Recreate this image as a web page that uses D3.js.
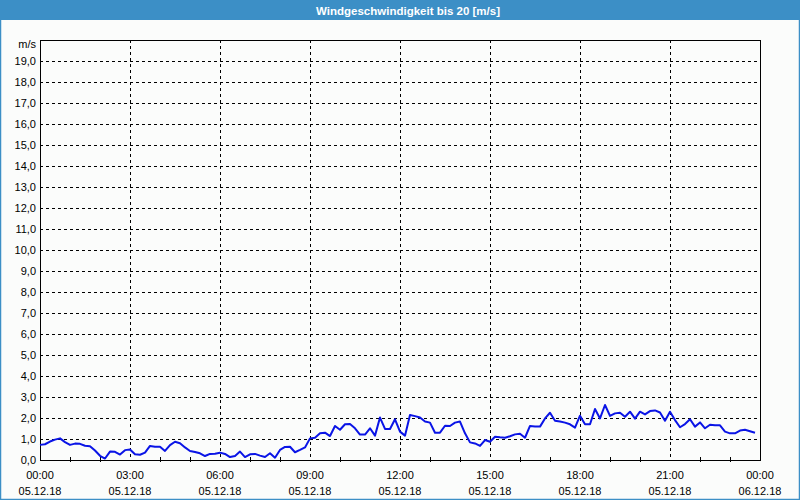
<!DOCTYPE html>
<html>
<head>
<meta charset="utf-8">
<script src="https://cdn.jsdelivr.net/npm/d3@7"></script>
<style>
html,body{margin:0;padding:0;background:#fff;}
svg{display:block;}
</style>
</head>
<body>
<script>
// ---- data ----
const title = "Windgeschwindigkeit bis 20 [m/s]";
const unitLabel = "m/s";
const startTime = "2018-12-05T00:00:00";
const endTime = "2018-12-06T00:00:00";
const stepMinutes = 10;
const windSpeed = [
0.72,0.75,0.88,0.97,1.03,0.85,0.72,0.78,0.77,0.68,
0.66,0.45,0.20,0.07,0.40,0.39,0.26,0.47,0.50,0.27,
0.25,0.35,0.67,0.63,0.63,0.43,0.71,0.87,0.80,0.60,
0.43,0.38,0.32,0.19,0.29,0.30,0.35,0.29,0.14,0.19,
0.40,0.14,0.27,0.29,0.21,0.14,0.32,0.11,0.48,0.62,
0.63,0.37,0.48,0.60,1.03,1.06,1.27,1.30,1.14,1.62,
1.44,1.70,1.71,1.51,1.21,1.21,1.51,1.16,2.02,1.48,
1.48,1.94,1.35,1.16,2.14,2.09,2.02,1.83,1.78,1.30,
1.30,1.63,1.62,1.78,1.83,1.27,0.84,0.79,0.67,0.95,
0.87,1.11,1.08,1.06,1.13,1.22,1.25,1.06,1.62,1.60,
1.59,1.98,2.25,1.87,1.83,1.78,1.70,1.54,2.11,1.70,
1.70,2.43,1.98,2.62,2.10,2.22,2.25,2.06,2.30,1.97,
2.30,2.17,2.33,2.36,2.26,1.87,2.30,1.90,1.56,1.71,
1.94,1.59,1.79,1.51,1.68,1.65,1.65,1.35,1.27,1.27,
1.40,1.44,1.37,1.30
];
const yTicks = [0,1,2,3,4,5,6,7,8,9,10,11,12,13,14,15,16,17,18,19];
const yMax = 20;
const xTickHours = [0,3,6,9,12,15,18,21,24];

// ---- layout ----
const W = 800, H = 500;
const m = {left:40, top:40, right:40, bottom:40};
const font = "'Liberation Sans', Arial, sans-serif";

const t0 = new Date(startTime), t1 = new Date(endTime);
const data = windSpeed.map((v,i)=>({t:new Date(t0.getTime()+i*stepMinutes*60000), v}));

const svg = d3.select("body").append("svg").attr("width",W).attr("height",H);

svg.append("rect").attr("x",0).attr("y",0).attr("width",W).attr("height",H).attr("fill","#fbfcfb");
svg.append("rect").attr("x",0.5).attr("y",0.5).attr("width",W-1).attr("height",H-1)
  .attr("fill","none").attr("stroke","#3c8fc6").attr("stroke-width",1.5);
svg.append("rect").attr("x",0).attr("y",0).attr("width",W).attr("height",20).attr("fill","#3c8fc6");
svg.append("text").attr("x",W/2+8).attr("y",14.5).attr("text-anchor","middle")
  .attr("fill","#fff").attr("font-family",font).attr("font-weight","bold").attr("font-size","11.5px")
  .text(title);

const x = d3.scaleTime().domain([t0,t1]).range([m.left, W-m.right]);
const y = d3.scaleLinear().domain([0,yMax]).range([H-m.bottom, m.top]);

const g = svg.append("g");

// horizontal grid
g.selectAll("line.hg").data(yTicks.filter(d=>d>0)).enter().append("line")
  .attr("x1",m.left).attr("x2",W-m.right)
  .attr("y1",d=>Math.round(y(d))+0.5).attr("y2",d=>Math.round(y(d))+0.5)
  .attr("stroke","#000").attr("stroke-dasharray","3,3").attr("stroke-width",1);

// vertical grid
const xTickDates = xTickHours.map(h=>new Date(t0.getTime()+h*3600000));
g.selectAll("line.vg").data(xTickDates.slice(1,-1)).enter().append("line")
  .attr("x1",d=>Math.round(x(d))+0.5).attr("x2",d=>Math.round(x(d))+0.5)
  .attr("y1",m.top).attr("y2",H-m.bottom)
  .attr("stroke","#000").attr("stroke-dasharray","3,3").attr("stroke-width",1);

// minor ticks every hour
const hourTicks = d3.range(1,24).filter(h=>h%3!==0).map(h=>new Date(t0.getTime()+h*3600000));
g.selectAll("line.mt").data(hourTicks).enter().append("line")
  .attr("x1",d=>Math.round(x(d))+0.5).attr("x2",d=>Math.round(x(d))+0.5)
  .attr("y1",H-m.bottom-3).attr("y2",H-m.bottom+2)
  .attr("stroke","#000");

// frame
g.append("rect").attr("x",m.left+0.5).attr("y",m.top+0.5)
  .attr("width",W-m.left-m.right-1+1).attr("height",H-m.top-m.bottom)
  .attr("fill","none").attr("stroke","#000").attr("stroke-width",1);

// y labels
g.selectAll("text.yl").data(yTicks).enter().append("text")
  .attr("x",m.left-4).attr("y",d=>y(d)+4)
  .attr("text-anchor","end").attr("font-family",font).attr("font-size","11px").attr("fill","#000")
  .text(d=>d.toFixed(1).replace(".",","));
g.append("text").attr("x",m.left-4).attr("y",m.top+8).attr("text-anchor","end")
  .attr("font-family",font).attr("font-size","11px").text(unitLabel);

// x labels
const fmtT = d3.timeFormat("%H:%M"), fmtD = d3.timeFormat("%d.%m.%y");
const xl = g.selectAll("g.xl").data(xTickDates).enter().append("g");
xl.append("text").attr("x",d=>x(d)).attr("y",H-m.bottom+19).attr("text-anchor","middle")
  .attr("font-family",font).attr("font-size","11px").text(d=>fmtT(d));
xl.append("text").attr("x",d=>x(d)).attr("y",H-m.bottom+35).attr("text-anchor","middle")
  .attr("font-family",font).attr("font-size","11px").text(d=>fmtD(d));

// line
const line = d3.line().x(d=>x(d.t)).y(d=>y(d.v));
g.append("path").datum(data).attr("d",line).attr("fill","none")
  .attr("stroke","#0a14e6").attr("stroke-width",2).attr("stroke-linejoin","round");
</script>
</body>
</html>
